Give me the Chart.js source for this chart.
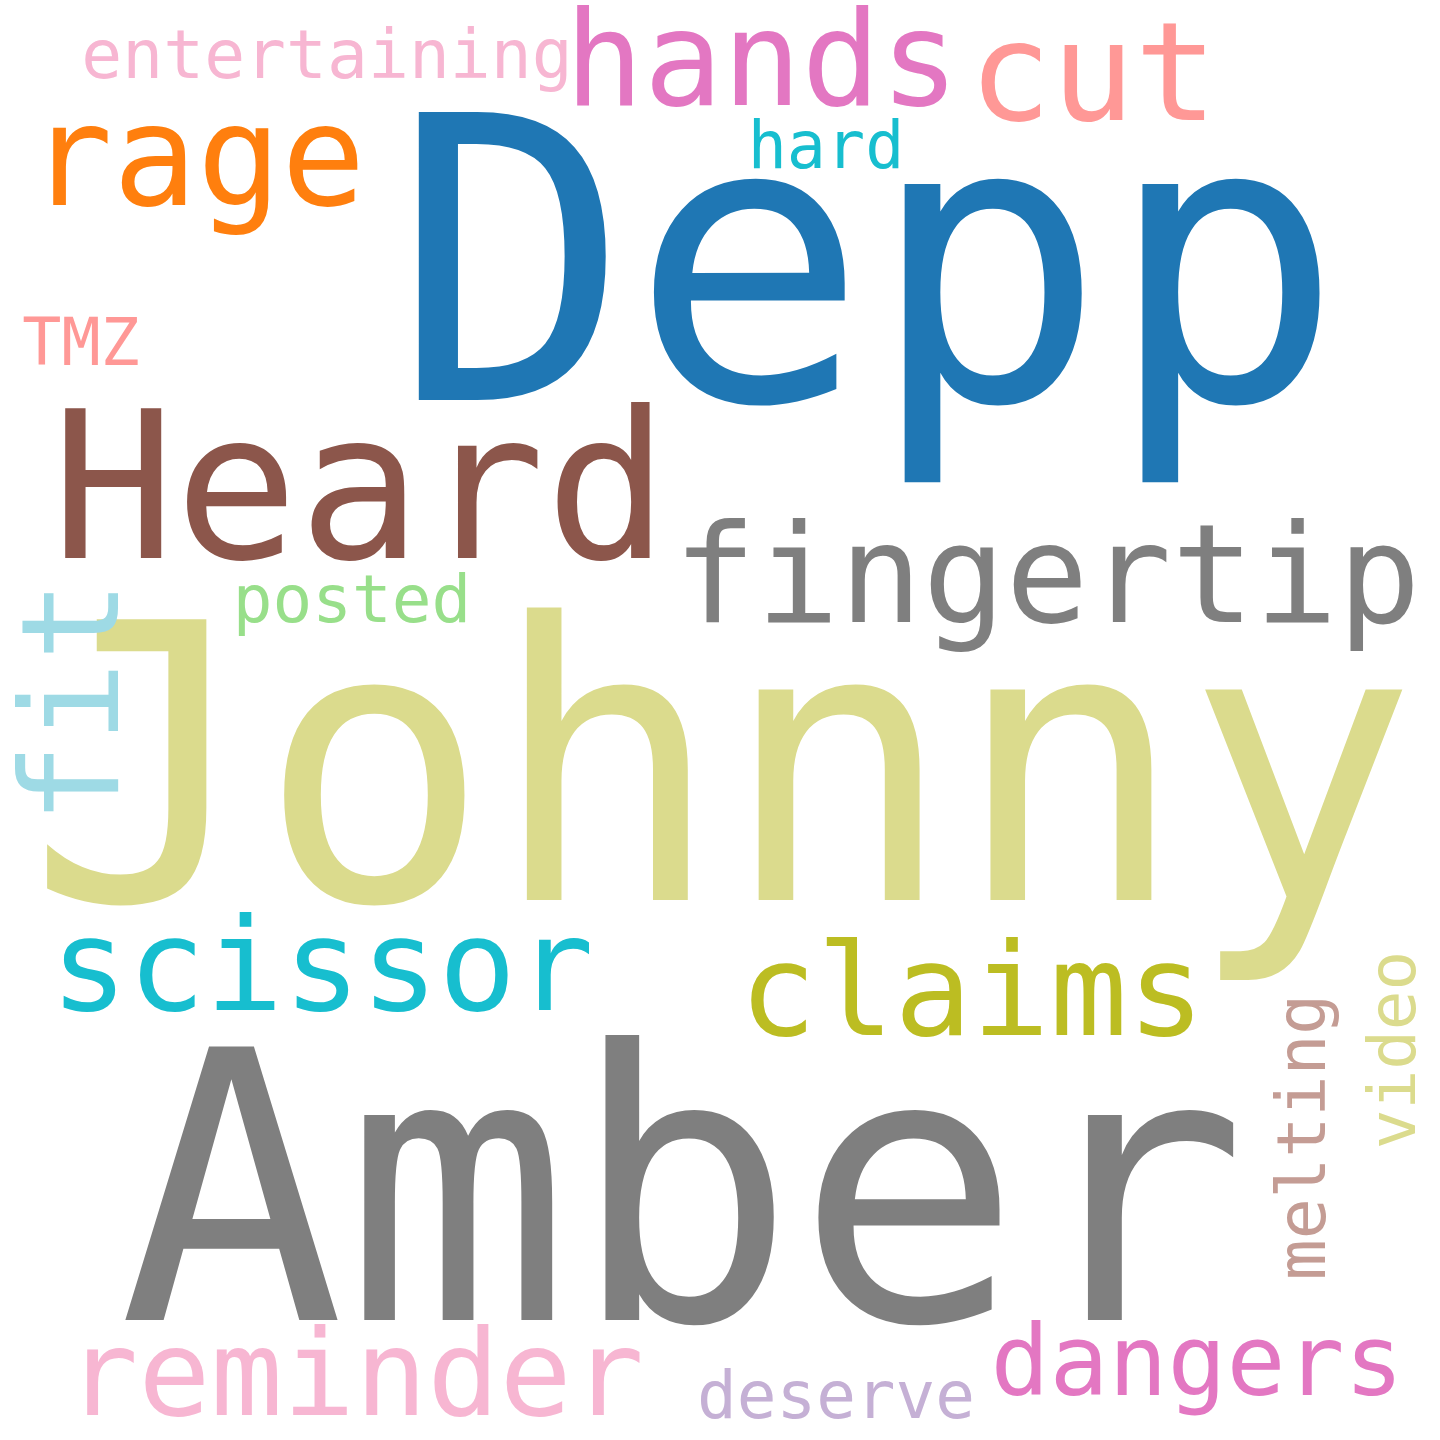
<!DOCTYPE html>
<html>
<head>
<meta charset="utf-8">
<style>
  html, body { margin: 0; padding: 0; background: #fff; }
  #wrap { width: 1440px; height: 1440px; }
</style>
<script src="https://cdn.jsdelivr.net/npm/chart.js@4"></script>
</head>
<body>
<div id="wrap"><canvas id="cloud"></canvas></div>
<script>
// Word cloud data: word, anchor (baseline centre), font size, rotation, colour
const words  = ['Depp', 'Johnny', 'Amber', 'Heard', 'fingertip', 'hands', 'cut', 'rage',
                'entertaining', 'hard', 'TMZ', 'posted', 'fit', 'scissor', 'claims',
                'reminder', 'deserve', 'dangers', 'melting', 'video'];
const wordX  = [868, 722, 683, 360, 1047, 762, 1093, 197, 327, 826, 81, 352, 118, 322, 972, 355, 836, 1197, 1325, 1415];
const wordY  = [400, 900, 1320, 558, 622, 105, 120, 205, 78, 168, 365, 622, 702, 1010, 1035, 1415, 1418, 1395, 1137, 1050];
const sizes  = [395, 385, 375, 205, 138, 131, 138, 140, 68, 65, 65, 66, 135, 129, 129, 120, 66, 98, 68, 66];
const rotate = [0, 0, 0, 0, 0, 0, 0, 0, 0, 0, 0, 0, 1, 0, 0, 0, 0, 0, 1, 1];
const colors = ['#1f77b4', '#dbdb8d', '#7f7f7f', '#8c564b', '#7f7f7f', '#e377c2', '#ff9896', '#ff7f0e',
                '#f7b6d2', '#17becf', '#ff9896', '#98df8a', '#9edae5', '#17becf', '#bcbd22',
                '#f7b6d2', '#c5b0d5', '#e377c2', '#c49c94', '#dbdb8d'];

// draw each word at its point position
const wordPlugin = {
    id: 'words',
    afterDatasetsDraw(chart) {
        const ctx = chart.ctx;
        const meta = chart.getDatasetMeta(0);
        meta.data.forEach((pt, i) => {
            ctx.save();
            ctx.translate(pt.x, pt.y);
            if (rotate[i]) ctx.rotate(-Math.PI / 2);
            ctx.font = sizes[i] + 'px "DejaVu Sans Mono"';
            ctx.fillStyle = colors[i];
            ctx.textAlign = 'center';
            ctx.textBaseline = 'alphabetic';
            ctx.fillText(words[i], 0, 0);
            ctx.restore();
        });
    }
};

new Chart(document.getElementById('cloud'), {
    type: 'scatter',
    data: {
        labels: words,
        datasets: [{
            data: words.map((w, i) => ({ x: wordX[i], y: wordY[i] })),
            pointRadius: 0
        }]
    },
    options: {
        responsive: true,
        maintainAspectRatio: false,
        animation: false,
        layout: { padding: 0 },
        plugins: { legend: { display: false }, tooltip: { enabled: false } },
        scales: {
            x: { display: false, min: 0, max: 1440 },
            y: { display: false, min: 0, max: 1440, reverse: true }
        }
    },
    plugins: [wordPlugin]
});
</script>
</body>
</html>
